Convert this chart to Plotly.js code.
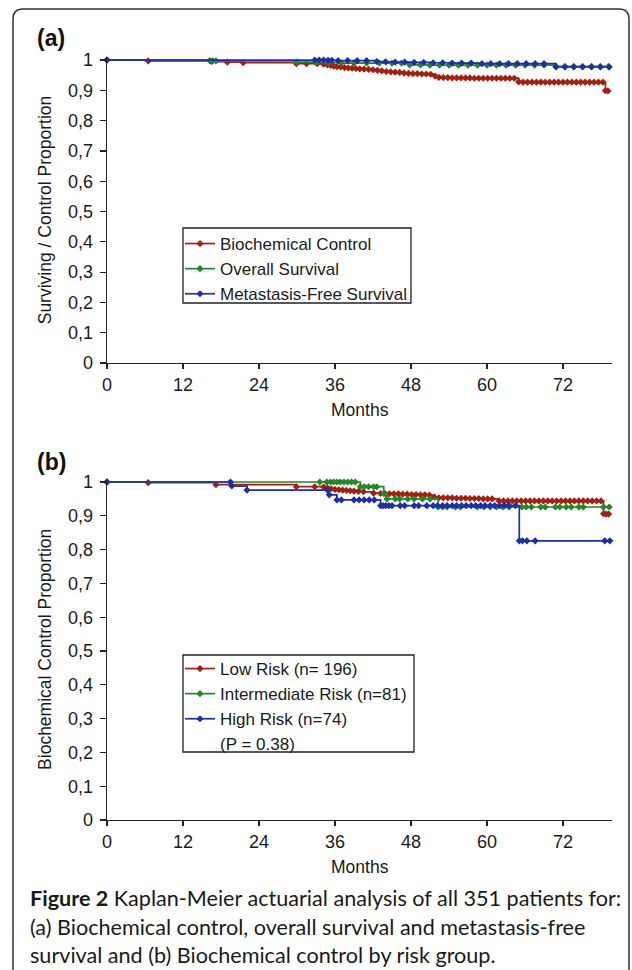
<!DOCTYPE html>
<html>
<head>
<meta charset="utf-8">
<script src="https://cdn.plot.ly/plotly-3.0.1.min.js"></script>
<style>
html,body{margin:0;padding:0;background:#fff;}
#chart{width:632px;height:970px;}
</style>
</head>
<body>
<div id="chart"></div>
<script>
// ---------- tick labels ----------
const monthTicks = [0, 12, 24, 36, 48, 60, 72];
const propTickVals = [0, 0.1, 0.2, 0.3, 0.4, 0.5, 0.6, 0.7, 0.8, 0.9, 1];
const propTickText = ['0', '0,1', '0,2', '0,3', '0,4', '0,5', '0,6', '0,7', '0,8', '0,9', '1'];

// ---------- panel (a) ----------
const bcMonths = [0, 6.5, 16.5, 19, 21.5, 29.9, 31.5, 33.2, 34.2, 34.8, 35.3, 35.8, 36.3, 36.9, 37.5, 38.1, 38.7, 39.3, 39.9, 40.6, 41.3, 42, 42.7, 43.4, 44.1, 44.8, 45.5, 46.2, 46.9, 47.6, 48.3, 49, 49.7, 50.4, 51.1, 51.8, 52.4, 53.1, 53.8, 54.5, 55.2, 55.9, 56.6, 57.3, 58, 58.7, 59.4, 60.1, 60.8, 61.5, 62.2, 62.9, 63.6, 64.3, 65, 65.7, 66.4, 67.1, 67.8, 68.5, 69.2, 69.9, 70.6, 71.3, 72, 72.7, 73.4, 74.1, 74.8, 75.5, 76.2, 76.9, 77.6, 78.3, 78.7, 79.1];
const bcProp = [1, 0.997, 0.995, 0.993, 0.991, 0.988, 0.988, 0.988, 0.986, 0.984, 0.982, 0.98, 0.978, 0.977, 0.975, 0.974, 0.973, 0.972, 0.971, 0.97, 0.969, 0.968, 0.966, 0.964, 0.962, 0.961, 0.96, 0.959, 0.957, 0.956, 0.955, 0.955, 0.954, 0.954, 0.953, 0.947, 0.943, 0.942, 0.942, 0.941, 0.941, 0.941, 0.941, 0.941, 0.94, 0.94, 0.94, 0.94, 0.94, 0.94, 0.94, 0.94, 0.94, 0.94, 0.928, 0.927, 0.927, 0.927, 0.927, 0.927, 0.927, 0.927, 0.927, 0.927, 0.927, 0.927, 0.927, 0.927, 0.927, 0.927, 0.927, 0.927, 0.927, 0.927, 0.899, 0.898];

const osMonths = [0, 16.2, 16.7, 17.2, 29.9, 33, 35, 37, 39, 41, 43, 45, 46.5, 47.8, 49.5, 51, 52.5, 54, 55.5, 57, 58.5, 60, 61.5, 63, 64.5, 66, 67.5, 69, 70.9, 72.3, 73.7, 75.1, 76.5, 77.9, 79.2];
const osProp = [1, 0.998, 0.997, 0.997, 0.993, 0.991, 0.991, 0.99, 0.99, 0.99, 0.99, 0.99, 0.99, 0.984, 0.984, 0.983, 0.983, 0.983, 0.983, 0.983, 0.983, 0.983, 0.983, 0.983, 0.983, 0.983, 0.983, 0.983, 0.979, 0.979, 0.979, 0.979, 0.979, 0.979, 0.979];

const mfsMonths = [0, 32.8, 33.5, 34.2, 34.9, 35.5, 36.5, 38, 39.5, 41, 42.6, 44, 45.5, 47, 48.5, 50, 51.5, 53, 54.5, 56, 57.5, 59.2, 60.6, 62, 63.4, 64.8, 66.2, 67.6, 69, 70.9, 72.3, 73.7, 75.1, 76.5, 77.9, 79.3];
const mfsProp = [1, 1, 1, 1, 0.999, 0.999, 0.998, 0.998, 0.998, 0.998, 0.995, 0.994, 0.993, 0.993, 0.992, 0.992, 0.991, 0.991, 0.99, 0.99, 0.99, 0.988, 0.988, 0.988, 0.988, 0.988, 0.988, 0.988, 0.988, 0.977, 0.977, 0.977, 0.977, 0.977, 0.977, 0.977];

// ---------- panel (b) ----------
const lowMonths = [0, 6.5, 17.2, 29.9, 32.8, 34.2, 34.8, 35.4, 36, 36.6, 37.2, 37.8, 38.4, 39, 39.7, 40.5, 42.1, 43.2, 43.9, 44.6, 45.3, 46, 46.7, 47.4, 48.1, 48.8, 49.5, 50.2, 50.9, 51.7, 52.4, 53.1, 53.8, 54.5, 55.2, 55.9, 56.6, 57.3, 58, 58.7, 59.4, 60.1, 60.8, 61.9, 62.6, 63.3, 64, 64.7, 65.4, 66.1, 66.8, 67.5, 68.2, 68.9, 69.6, 70.3, 71, 71.7, 72.4, 73.1, 73.8, 74.5, 75.2, 75.9, 76.6, 77.3, 78, 78.4, 78.8, 79.2];
const lowProp = [1, 0.998, 0.992, 0.986, 0.986, 0.985, 0.983, 0.98, 0.978, 0.977, 0.976, 0.975, 0.974, 0.973, 0.972, 0.971, 0.967, 0.966, 0.966, 0.965, 0.965, 0.965, 0.964, 0.964, 0.963, 0.963, 0.962, 0.962, 0.961, 0.955, 0.953, 0.953, 0.953, 0.953, 0.952, 0.952, 0.952, 0.951, 0.951, 0.951, 0.95, 0.95, 0.95, 0.944, 0.944, 0.944, 0.944, 0.944, 0.944, 0.944, 0.944, 0.944, 0.944, 0.944, 0.944, 0.944, 0.944, 0.944, 0.944, 0.944, 0.944, 0.944, 0.944, 0.944, 0.944, 0.944, 0.944, 0.906, 0.905, 0.905];

const intMonths = [0, 33.6, 34.7, 35.3, 35.8, 36.3, 36.8, 37.4, 38, 38.6, 39.2, 40, 40.6, 41.3, 42.1, 42.6, 43.7, 44.2, 45.5, 46.2, 47.5, 48.5, 49.8, 51, 52.3, 53, 53.7, 55, 55.8, 58.5, 59.5, 60.5, 61.5, 62.5, 63.5, 65.5, 66.2, 67, 68.5, 69.2, 70.8, 71.5, 72.5, 73.3, 74.5, 75.2, 78.4, 79.3];
const intProp = [1, 1, 1, 1, 1, 1, 1, 1, 1, 1, 1, 0.986, 0.986, 0.986, 0.986, 0.986, 0.966, 0.95, 0.95, 0.95, 0.95, 0.95, 0.95, 0.95, 0.926, 0.926, 0.926, 0.926, 0.926, 0.926, 0.926, 0.926, 0.926, 0.926, 0.926, 0.926, 0.926, 0.926, 0.926, 0.926, 0.926, 0.926, 0.926, 0.926, 0.926, 0.926, 0.926, 0.926];

const highMonths = [0, 19.5, 19.7, 22.1, 34.8, 35.1, 36.3, 37, 39, 39.8, 40.6, 41.4, 42.2, 43.2, 43.6, 44, 44.5, 45, 46.3, 47, 48.5, 49.2, 50.5, 51.5, 52.2, 53, 53.7, 54.5, 55.2, 56, 56.7, 57.5, 58.2, 59, 59.7, 60.5, 61.2, 62, 62.8, 63.5, 64.5, 65.1, 65.6, 66.3, 67.6, 78.6, 79.4];
const highProp = [1, 1, 0.988, 0.976, 0.976, 0.962, 0.947, 0.947, 0.947, 0.947, 0.947, 0.947, 0.947, 0.93, 0.93, 0.93, 0.93, 0.93, 0.93, 0.93, 0.93, 0.93, 0.93, 0.93, 0.93, 0.93, 0.93, 0.93, 0.93, 0.93, 0.93, 0.93, 0.93, 0.93, 0.93, 0.93, 0.93, 0.93, 0.93, 0.93, 0.93, 0.826, 0.826, 0.826, 0.826, 0.826, 0.826];

const seriesNamesA = ['Biochemical Control', 'Overall Survival', 'Metastasis-Free Survival'];
const seriesNamesB = ['Low Risk (n= 196)', 'Intermediate Risk (n=81)', 'High Risk (n=74)'];
const pValueText = '(P = 0.38)';

// ---------- styling ----------
const RED = '#A61E0E', GREEN = '#1F8A25', BLUE = '#1C2EAE';
const W = 632, H = 970;
const px = v => v / W;
const py = v => 1 - v / H;
const FONT = 'Liberation Sans, Arial, sans-serif';
const CAPFONT = 'Lato, sans-serif';
const TXT = '#1a1a1a';

function km(x, y, name, color, xa, ya, leg, grp) {
  return {
    x: x, y: y, name: name, type: 'scatter', mode: 'lines+markers',
    line: {shape: 'hv', color: color, width: 1.7},
    marker: {symbol: 'diamond', size: 5.5, color: color},
    xaxis: xa, yaxis: ya, legend: leg, legendgroup: grp, cliponaxis: false
  };
}

const traces = [
  km(bcMonths, bcProp, seriesNamesA[0], RED, 'x', 'y', 'legend', 'a1'),
  km(osMonths, osProp, seriesNamesA[1], GREEN, 'x', 'y', 'legend', 'a2'),
  km(mfsMonths, mfsProp, seriesNamesA[2], BLUE, 'x', 'y', 'legend', 'a3'),
  km(lowMonths, lowProp, seriesNamesB[0], RED, 'x2', 'y2', 'legend2', 'b1'),
  km(intMonths, intProp, seriesNamesB[1], GREEN, 'x2', 'y2', 'legend2', 'b2'),
  km(highMonths, highProp, seriesNamesB[2], BLUE, 'x2', 'y2', 'legend2', 'b3'),
  {x: [null], y: [null], name: pValueText, type: 'scatter', mode: 'lines',
   line: {width: 0, color: 'rgba(0,0,0,0)'}, xaxis: 'x2', yaxis: 'y2',
   legend: 'legend2', legendgroup: 'b4', hoverinfo: 'skip'}
];

function xAxis(anchor) {
  return {
    domain: [px(107), px(612.4)], range: [0, 79.8], anchor: anchor,
    tickvals: monthTicks, ticks: 'outside', ticklen: 5, tickwidth: 1.2, tickcolor: '#222',
    showline: true, linecolor: '#222', linewidth: 1.3, showgrid: false, zeroline: false,
    tickfont: {family: FONT, size: 18, color: TXT},
    title: {text: 'Months', font: {family: FONT, size: 17.5, color: TXT}, standoff: 9}
  };
}
function yAxis(dom, anchor, title) {
  return {
    domain: dom, range: [0, 1.01], anchor: anchor,
    tickvals: propTickVals, ticktext: propTickText, ticks: 'outside', ticklen: 6,
    ticklabelstandoff: 3, tickwidth: 1.2, tickcolor: '#222',
    showline: true, linecolor: '#222', linewidth: 1.3, showgrid: false, zeroline: false,
    tickfont: {family: FONT, size: 18, color: TXT},
    title: {text: title, font: {family: FONT, size: 17.5, color: TXT}, standoff: 12}
  };
}

const legendBase = {
  xanchor: 'left', yanchor: 'top', bgcolor: 'rgba(255,255,255,0)',
  borderwidth: 0, tracegroupgap: 0,
  font: {family: FONT, size: 17, color: TXT}, itemwidth: 30
};

const layout = {
  width: W, height: H, margin: {l: 0, r: 0, t: 0, b: 0},
  paper_bgcolor: '#fff', plot_bgcolor: 'rgba(0,0,0,0)', showlegend: true,
  xaxis: xAxis('y'),
  yaxis: yAxis([py(363), py(57)], 'x', 'Surviving / Control Proportion'),
  xaxis2: xAxis('y2'),
  yaxis2: yAxis([py(820), py(478.6)], 'x2', 'Biochemical Control Proportion'),
  legend: Object.assign({}, legendBase, {x: px(180), y: py(226)}),
  legend2: Object.assign({}, legendBase, {x: px(180), y: py(651)}),
  shapes: [
    {type: 'path', xref: 'paper', yref: 'paper',
     path: `M ${px(13)},${py(980)} L ${px(13)},${py(19)} Q ${px(13)},${py(9)} ${px(23)},${py(9)} L ${px(619)},${py(9)} Q ${px(629)},${py(9)} ${px(629)},${py(19)} L ${px(629)},${py(980)}`,
     line: {color: '#333', width: 1.5}},
    {type: 'rect', xref: 'paper', yref: 'paper', x0: px(183), x1: px(411), y0: py(228), y1: py(303),
     line: {color: '#222', width: 1.3}},
    {type: 'rect', xref: 'paper', yref: 'paper', x0: px(183), x1: px(414), y0: py(655), y1: py(752),
     line: {color: '#222', width: 1.3}}
  ],
  annotations: [
    {text: '<b>(a)</b>', x: px(35), y: py(38), xref: 'paper', yref: 'paper', xanchor: 'left', yanchor: 'middle', showarrow: false, font: {family: FONT, size: 23, color: '#111'}},
    {text: '<b>(b)</b>', x: px(35), y: py(462), xref: 'paper', yref: 'paper', xanchor: 'left', yanchor: 'middle', showarrow: false, font: {family: FONT, size: 23, color: '#111'}},
    {text: '<b>Figure 2</b> Kaplan-Meier actuarial analysis of all 351 patients for:', x: px(28), y: py(898), xref: 'paper', yref: 'paper', xanchor: 'left', yanchor: 'middle', showarrow: false, font: {family: CAPFONT, size: 21.6, color: '#1a1a1a'}},
    {text: '(a) Biochemical control, overall survival and metastasis-free', x: px(28), y: py(927), xref: 'paper', yref: 'paper', xanchor: 'left', yanchor: 'middle', showarrow: false, font: {family: CAPFONT, size: 21.6, color: '#1a1a1a'}},
    {text: 'survival and (b) Biochemical control by risk group.', x: px(28), y: py(955), xref: 'paper', yref: 'paper', xanchor: 'left', yanchor: 'middle', showarrow: false, font: {family: CAPFONT, size: 21.6, color: '#1a1a1a'}}
  ]
};

Plotly.newPlot('chart', traces, layout, {displayModeBar: false, staticPlot: true});
</script>
</body>
</html>
